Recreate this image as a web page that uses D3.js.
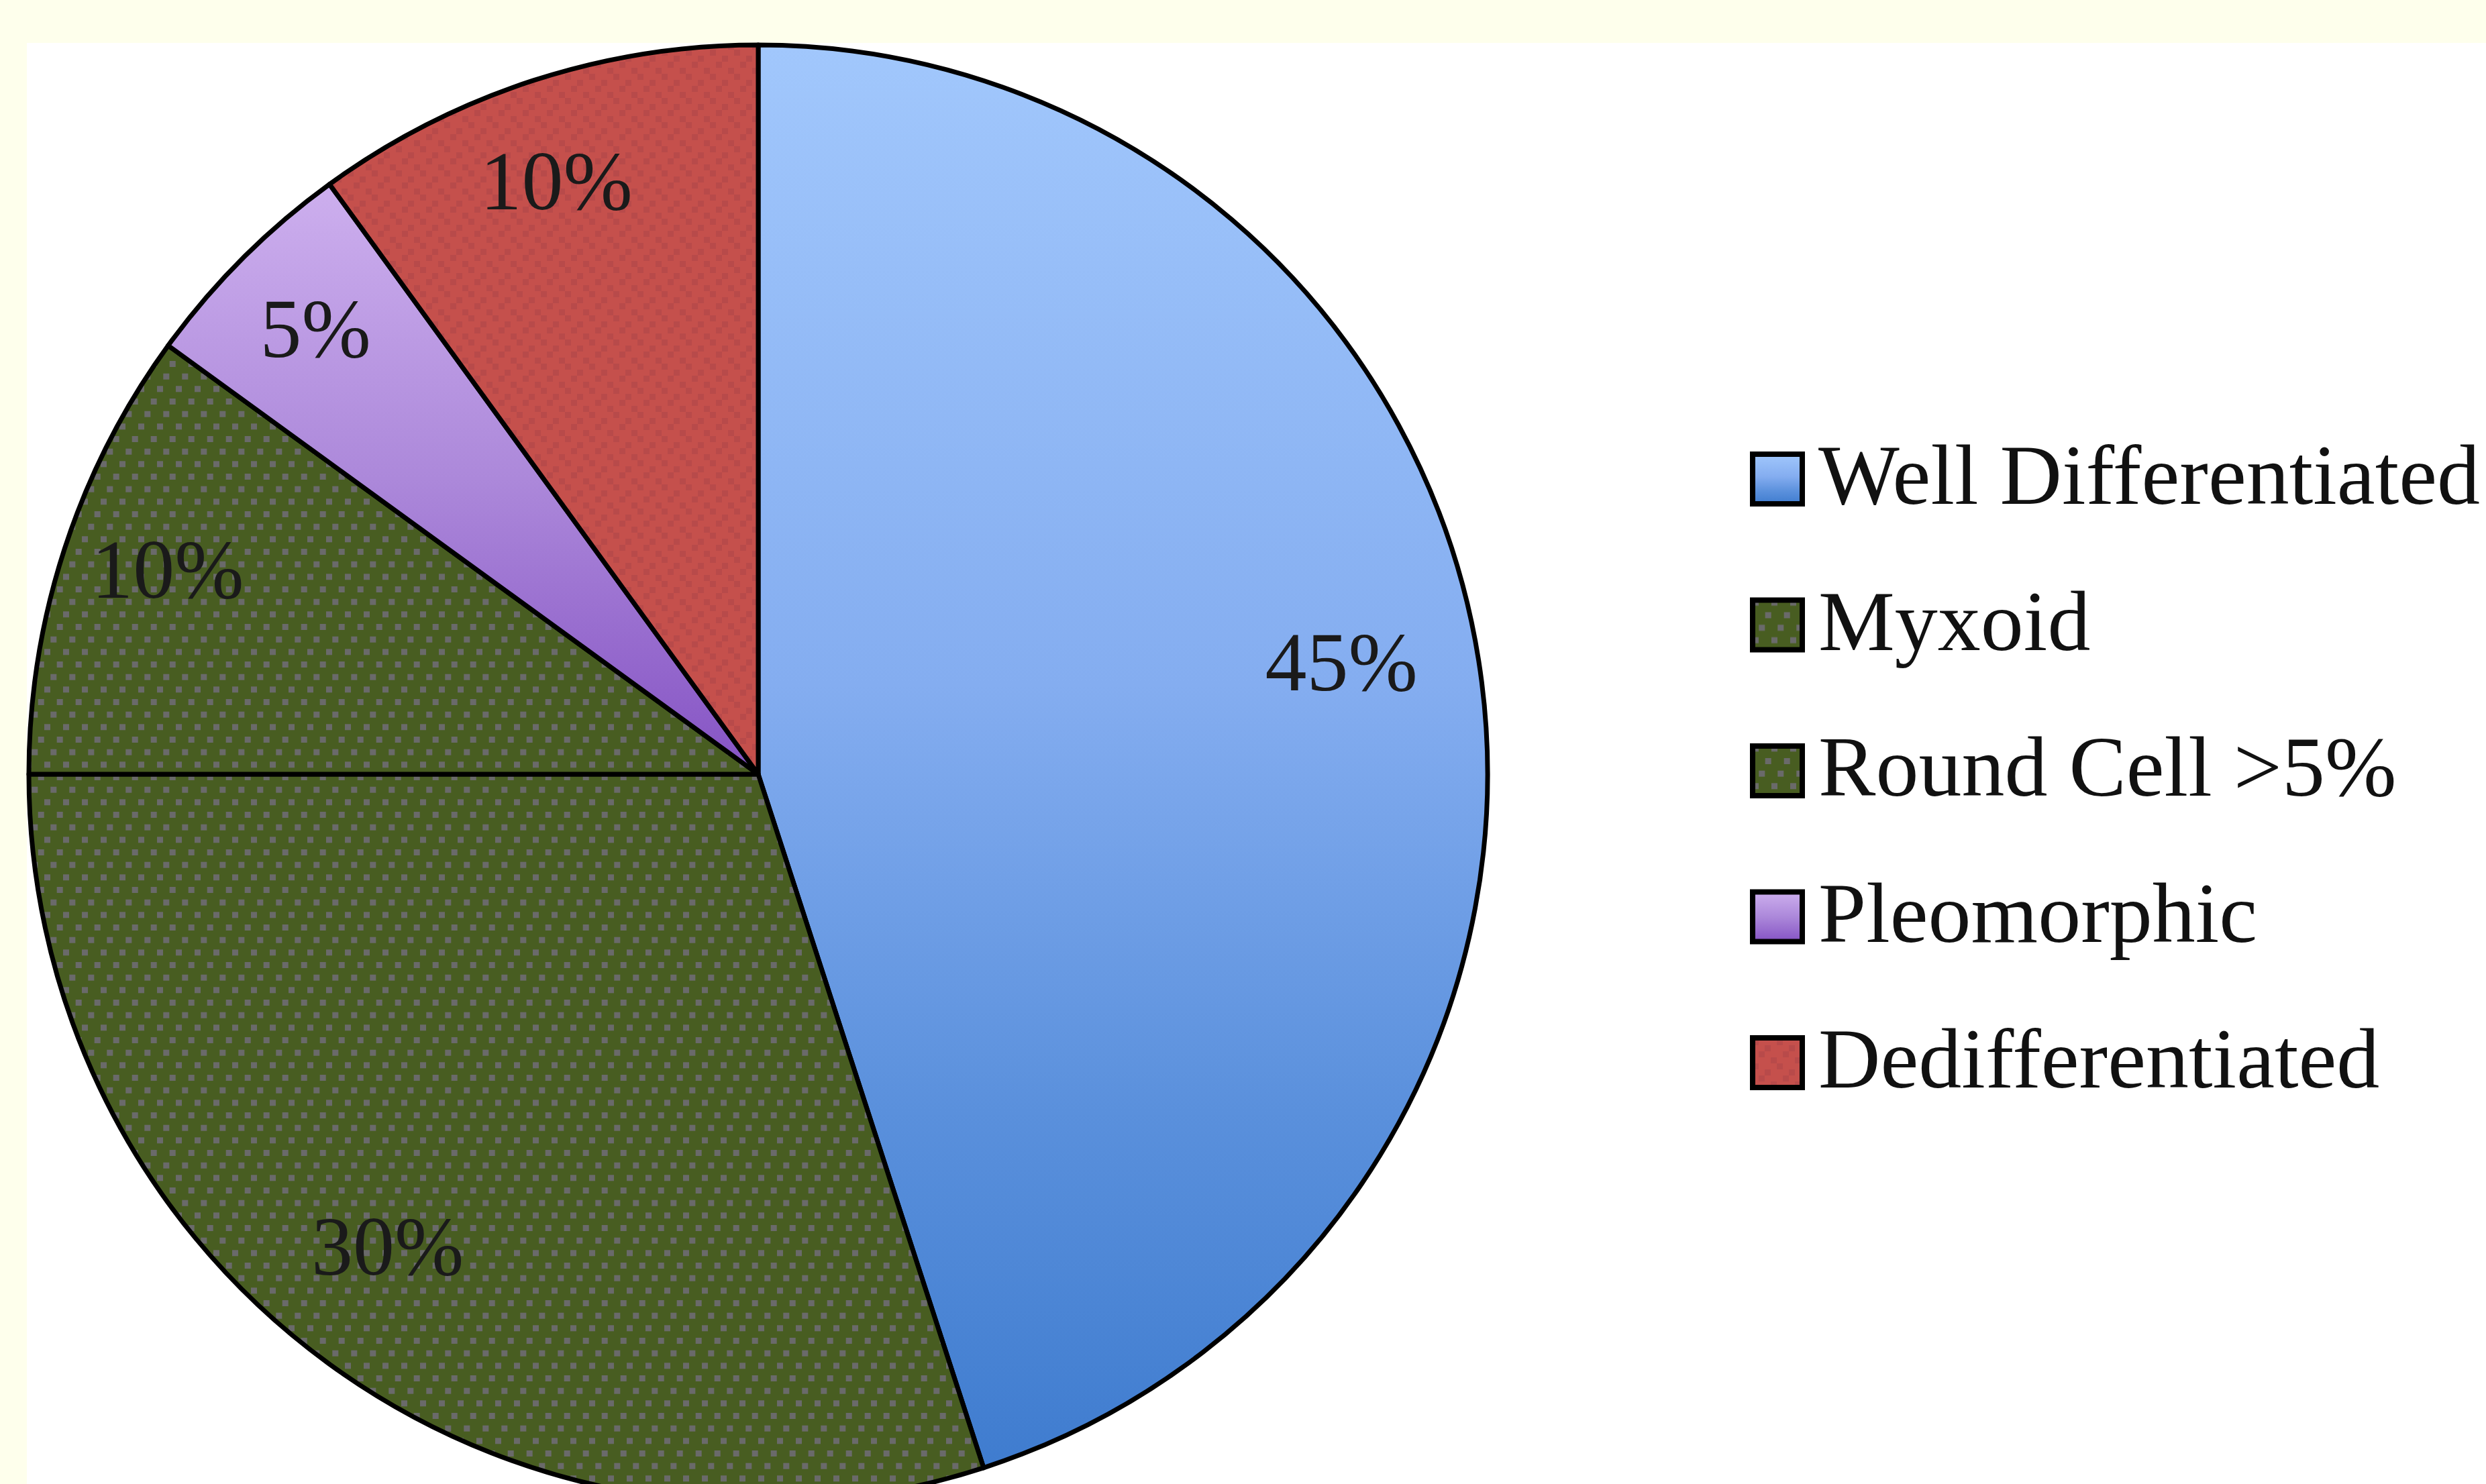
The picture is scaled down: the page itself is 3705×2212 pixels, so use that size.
<!DOCTYPE html>
<html>
<head>
<meta charset="utf-8">
<script src="https://cdn.jsdelivr.net/npm/d3@7"></script>
<style>
  html, body { margin: 0; padding: 0; background: #FEFFEC; }
  svg { display: block; }
</style>
</head>
<body>
<svg id="chart" width="3705" height="2212"></svg>
<script>
// ---- data ----
const categories = ["Well Differentiated", "Myxoid", "Round Cell >5%", "Pleomorphic", "Dedifferentiated"];
const values = [45, 30, 10, 5, 10];
const valueLabels = ["45%", "30%", "10%", "5%", "10%"];

// ---- styles ----
const fillIds = ["gBlue", "pGreen", "pGreen", "gPurple", "pRed"];

const W = 3705, H = 2212;
const svg = d3.select("#chart");
const defs = svg.append("defs");

// Blue gradient (per-slice bounding box)
const gb = defs.append("linearGradient").attr("id", "gBlue")
  .attr("x1", 0).attr("y1", 0).attr("x2", 0).attr("y2", 1);
[[0, "#A1C7FC"], [0.45, "#84ADF0"], [0.75, "#5A90DC"], [1, "#3F7CCF"]]
  .forEach(([o, c]) => gb.append("stop").attr("offset", o).attr("stop-color", c));

// Purple gradient
const gp = defs.append("linearGradient").attr("id", "gPurple")
  .attr("x1", 0).attr("y1", 0).attr("x2", 0).attr("y2", 1);
[[0, "#CDAFEE"], [0.5, "#AC88DA"], [1, "#8553C4"]]
  .forEach(([o, c]) => gp.append("stop").attr("offset", o).attr("stop-color", c));

// Green dotted pattern (diagonal dot grid)
const pg = defs.append("pattern").attr("id", "pGreen")
  .attr("patternUnits", "userSpaceOnUse").attr("width", 28).attr("height", 56);
pg.append("rect").attr("width", 28).attr("height", 56).attr("fill", "#485D21");
[[18.7, 0], [9.3, 18.7], [0, 37.3]].forEach(([x, y]) =>
  pg.append("rect").attr("x", x).attr("y", y).attr("width", 9).attr("height", 9).attr("fill", "#6A6A6A"));

// Red subtle pattern
const pr = defs.append("pattern").attr("id", "pRed")
  .attr("patternUnits", "userSpaceOnUse").attr("width", 36).attr("height", 36);
pr.append("rect").attr("width", 36).attr("height", 36).attr("fill", "#C5504C");
[[0, 0], [18, 9], [9, 18], [27, 27]].forEach(([x, y]) =>
  pr.append("rect").attr("x", x).attr("y", y).attr("width", 9).attr("height", 9).attr("fill", "#B84A4A"));

// white plot area on cream background
svg.append("rect").attr("x", 40).attr("y", 64).attr("width", W - 40).attr("height", H - 64).attr("fill", "#FFFFFF");

// ---- pie ----
const cx = 1130, cy = 1154, r = 1087;
const pie = d3.pie().sort(null).value(d => d).startAngle(0).endAngle(2 * Math.PI);
const arcs = pie(values);
const arc = d3.arc().innerRadius(0).outerRadius(r);
const labelArc = d3.arc().innerRadius(r * 0.83).outerRadius(r * 0.83);

const g = svg.append("g").attr("transform", `translate(${cx},${cy})`);

g.selectAll("path.slice").data(arcs).enter().append("path")
  .attr("class", "slice")
  .attr("d", arc)
  .attr("fill", (d, i) => `url(#${fillIds[i]})`)
  .attr("stroke", "#000")
  .attr("stroke-width", 7)
  .attr("stroke-linejoin", "round");

g.selectAll("text.lbl").data(arcs).enter().append("text")
  .attr("class", "lbl")
  .attr("transform", d => `translate(${labelArc.centroid(d)})`)
  .attr("text-anchor", "middle")
  .attr("dx", -22)
  .attr("dy", "0.13em")
  .attr("font-family", "'Liberation Serif', 'Times New Roman', serif")
  .attr("font-size", 124)
  .attr("fill", "#1A1A1A")
  .text((d, i) => valueLabels[i]);

// ---- legend ----
const ly = d3.scalePoint().domain(categories).range([751, 1621]);
const sw = 74;
const leg = svg.append("g");
const items = leg.selectAll("g.item").data(categories).enter().append("g")
  .attr("class", "item")
  .attr("transform", d => `translate(2612,${ly(d)})`);

items.append("rect")
  .attr("x", 0).attr("y", -sw).attr("width", sw).attr("height", sw)
  .attr("fill", (d, i) => `url(#${fillIds[i]})`)
  .attr("stroke", "#000").attr("stroke-width", 8);

items.append("text")
  .attr("x", 98).attr("y", 0)
  .attr("font-family", "'Liberation Serif', 'Times New Roman', serif")
  .attr("font-size", 128)
  .attr("fill", "#111")
  .text(d => d);
</script>
</body>
</html>
